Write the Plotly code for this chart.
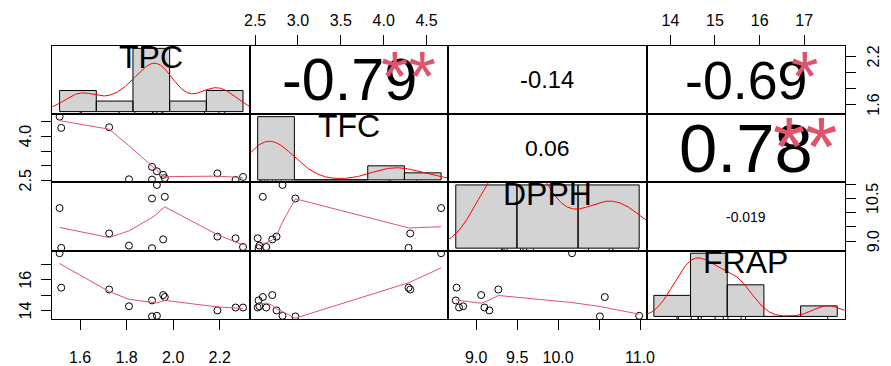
import math
import numpy as np
import plotly.graph_objects as go

# ---- data -------------------------------------------------------------
names = ["TPC", "TFC", "DPPH", "FRAP"]

tpc = [1.512, 1.519, 1.725, 1.810, 1.909, 1.909, 1.930, 1.964, 1.957, 2.190, 2.268, 2.300]
tfc = [4.67, 4.29, 4.31, 2.55, 2.97, 2.54, 2.82, 2.59, 2.70, 2.75, 2.53, 2.63]
dpph = [10.17, 8.76, 9.27, 8.84, 10.51, 8.75, 10.99, 10.57, 9.06, 9.16, 9.10, 8.79]
frap = [17.74, 15.50, 15.38, 14.29, 13.63, 14.67, 13.67, 14.89, 15.02, 14.02, 14.21, 14.21]

breaks_tpc = [1.4, 1.6, 1.8, 2.0, 2.2, 2.4]
breaks_tfc = [2.5, 3.0, 3.5, 4.0, 4.5, 5.0]
breaks_dpph = [8.0, 9.0, 10.0, 11.0]
breaks_frap = [13.0, 14.0, 15.0, 16.0, 17.0, 18.0]

bottom_ticks_tpc = [1.6, 1.8, 2.0, 2.2]
bottom_labels_tpc = ["1.6", "1.8", "2.0", "2.2"]
bottom_ticks_dpph = [9.0, 9.5, 10.0, 10.5, 11.0]
bottom_labels_dpph = ["9.0", "9.5", "10.0", "", "11.0"]
top_ticks_tfc = [2.5, 3.0, 3.5, 4.0, 4.5]
top_labels_tfc = ["2.5", "3.0", "3.5", "4.0", "4.5"]
top_ticks_frap = [14, 15, 16, 17]
top_labels_frap = ["14", "15", "16", "17"]
left_ticks_tfc = [2.5, 3.0, 3.5, 4.0, 4.5]
left_labels_tfc = ["2.5", "", "", "4.0", ""]
left_ticks_frap = [14, 15, 16, 17]
left_labels_frap = ["14", "", "16", ""]
right_ticks_tpc = [1.6, 1.8, 2.0, 2.2]
right_labels_tpc = ["1.6", "", "", "2.2"]
right_ticks_dpph = [9.0, 9.5, 10.0, 10.5, 11.0]
right_labels_dpph = ["9.0", "", "", "10.5", ""]

columns = [tpc, tfc, dpph, frap]
breaks = [breaks_tpc, breaks_tfc, breaks_dpph, breaks_frap]

# ---- page geometry ----------------------------------------------------
W, H = 891, 366
PX_L, PX_R, PX_T, PX_B = 47, 852, 47, 327
PW = (PX_R - PX_L) / 4
PH = (PX_B - PX_T) / 4
FONT = "Liberation Sans, Arial, sans-serif"
SMOOTH_COL = "#DF536B"
STAR_COL = "#DF536B"


def xdom(j):
    return [(PX_L + j * PW) / W, (PX_L + (j + 1) * PW) / W]


def ydom(i):
    return [1 - (PX_T + (i + 1) * PH) / H, 1 - (PX_T + i * PH) / H]


# ---- statistics helpers ----------------------------------------------
def padded(v):
    lo, hi = min(v), max(v)
    r = hi - lo
    return [lo - 0.04 * r, hi + 0.04 * r]


def hist_density(v, br):
    v = np.asarray(v, float)
    br = np.asarray(br, float)
    idx = np.searchsorted(br, v, side="left") - 1  # right-closed bins
    idx = np.clip(idx, 0, len(br) - 2)
    counts = np.bincount(idx, minlength=len(br) - 1)
    return counts / (len(v) * np.diff(br))


def kde(v):
    v = np.asarray(v, float)
    n = len(v)
    sd = v.std(ddof=1)
    q75, q25 = np.percentile(v, [75, 25])
    lo = min(sd, (q75 - q25) / 1.34)
    bw = 0.9 * lo * n ** -0.2
    g = np.linspace(v.min() - 3 * bw, v.max() + 3 * bw, 512)
    d = np.exp(-0.5 * ((g[:, None] - v[None, :]) / bw) ** 2).sum(1) / (n * bw * math.sqrt(2 * math.pi))
    return g, d


def lowess(xv, yv, f=2 / 3, nsteps=3):
    order = np.argsort(xv, kind="stable")
    x = np.asarray(xv, float)[order]
    y = np.asarray(yv, float)[order]
    n = len(x)
    delta = 0.01 * (x[-1] - x[0])
    span = x[-1] - x[0]
    ns = max(2, min(n, int(f * n + 1e-7)))
    ys = np.zeros(n)
    w = np.zeros(n)
    state = {"rw": np.ones(n)}

    def lowest(xs, nleft, nright, userw):
        rw = state["rw"]
        h = max(xs - x[nleft], x[nright] - xs)
        h9, h1 = 0.999 * h, 0.001 * h
        a = 0.0
        j = nleft
        while j < n:
            w[j] = 0.0
            r = abs(x[j] - xs)
            if r <= h9:
                w[j] = 1.0 if r <= h1 else (1 - (r / h) ** 3) ** 3
                if userw:
                    w[j] *= rw[j]
                a += w[j]
            elif x[j] > xs:
                break
            j += 1
        nrt = j - 1
        if a <= 0:
            return None
        sl = slice(nleft, nrt + 1)
        w[sl] /= a
        if h > 0:
            a = np.sum(w[sl] * x[sl])
            b = xs - a
            c = np.sum(w[sl] * (x[sl] - a) ** 2)
            if math.sqrt(c) > 0.001 * span:
                b /= c
                w[sl] *= b * (x[sl] - a) + 1
        return float(np.sum(w[sl] * y[sl]))

    for it in range(nsteps + 1):
        nleft, nright = 0, ns - 1
        last = -1
        i = 0
        while True:
            if nright < n - 1:
                d1 = x[i] - x[nleft]
                d2 = x[nright + 1] - x[i]
                if d1 > d2:
                    nleft += 1
                    nright += 1
                    continue
            val = lowest(x[i], nleft, nright, it > 0)
            ys[i] = y[i] if val is None else val
            if last < i - 1:
                denom = x[i] - x[last]
                for jj in range(last + 1, i):
                    alpha = (x[jj] - x[last]) / denom
                    ys[jj] = alpha * ys[i] + (1 - alpha) * ys[last]
            last = i
            cut = x[last] + delta
            i = last + 1
            while i < n:
                if x[i] > cut:
                    break
                if x[i] == x[last]:
                    ys[i] = ys[last]
                    last = i
                i += 1
            i = max(last + 1, i - 1)
            if last >= n - 1:
                break
        res = y - ys
        if it == nsteps:
            break
        sc = np.mean(np.abs(res))
        ar = np.sort(np.abs(res))
        m1 = n // 2
        cmad = 3 * (ar[m1] + ar[n - m1 - 1]) if n % 2 == 0 else 6 * ar[m1]
        if cmad < 1e-7 * sc:
            break
        c9, c1 = 0.999 * cmad, 0.001 * cmad
        r = np.abs(res)
        state["rw"] = np.where(r <= c1, 1.0, np.where(r <= c9, (1 - (r / cmad) ** 2) ** 2, 0.0))
    return x, ys


def t_pvalue(t, df):
    c = math.exp(math.lgamma((df + 1) / 2) - math.lgamma(df / 2)) / math.sqrt(df * math.pi)
    xs = np.linspace(0, abs(t), 4001)
    pdf = c * (1 + xs ** 2 / df) ** (-(df + 1) / 2)
    return max(0.0, 1 - 2 * np.trapezoid(pdf, xs))


def signif_stars(p):
    for cut, sym in [(0.001, "***"), (0.01, "**"), (0.05, "*"), (0.1, ".")]:
        if p <= cut:
            return sym
    return ""


def fmt_digits(vals, digits=2):
    decs = []
    for v in vals:
        if v == 0:
            decs.append(0)
            continue
        ref = float(f"{v:.{digits - 1}e}")
        sig = digits
        for s in range(1, digits + 1):
            if abs(float(f"{v:.{s - 1}e}") - ref) <= 1e-12 * abs(v):
                sig = s
                break
        e = int(math.floor(math.log10(abs(ref))))
        decs.append(max(0, sig - 1 - e))
    d = max(decs)
    return [f"{v:.{d}f}" for v in vals]


ADV = {"-": 0.333, ".": 0.278, "*": 0.389}


def em_width(s):
    return sum(ADV.get(ch, 0.556) for ch in s)


# ---- build the matrix -------------------------------------------------
traces = []
annotations = []
layout_axes = {}

axis_base = dict(showgrid=False, zeroline=False, showline=True, mirror=True,
                 linecolor="black", linewidth=1, ticks="", showticklabels=False,
                 fixedrange=True)
tick_font = dict(size=16, family=FONT, color="black")
tick_style = dict(ticks="outside", ticklen=10, tickwidth=1, tickcolor="black",
                  showticklabels=True, tickfont=tick_font)


def side_labels(ticks, labels, yref, px):
    for v, s in zip(ticks, labels):
        if s:
            annotations.append(dict(xref="paper", yref=yref, x=px / W, y=v, text=s,
                                    textangle=-90, showarrow=False, xanchor="center",
                                    yanchor="middle", font=tick_font))


for i in range(4):
    for j in range(4):
        k = i * 4 + j + 1
        xa = "x" if k == 1 else f"x{k}"
        ya = "y" if k == 1 else f"y{k}"
        xname = "xaxis" if k == 1 else f"xaxis{k}"
        yname = "yaxis" if k == 1 else f"yaxis{k}"
        xd, yd = xdom(j), ydom(i)

        if i == j:
            br = breaks[i]
            dens = hist_density(columns[i], br)
            m = float(dens.max())
            xr = [br[0] - 0.04 * (br[-1] - br[0]), br[-1] + 0.04 * (br[-1] - br[0])]
            yr = [-0.04 * m, 1.04 * m]
            bx, by = [], []
            for l, r, h in zip(br[:-1], br[1:], dens):
                bx += [l, l, r, r, l, None]
                by += [0, h, h, 0, 0, None]
            traces.append(go.Scatter(x=bx, y=by, xaxis=xa, yaxis=ya, mode="lines",
                                     fill="toself", fillcolor="#D3D3D3",
                                     line=dict(color="black", width=1), hoverinfo="skip"))
            g, d = kde(columns[i])
            traces.append(go.Scatter(x=g, y=d, xaxis=xa, yaxis=ya, mode="lines",
                                     line=dict(color="#FF0000", width=1), hoverinfo="skip"))
            rx, ry = [], []
            for v in columns[i]:
                rx += [v, v, None]
                ry += [yr[0], yr[0] + 0.03 * (yr[1] - yr[0]), None]
            traces.append(go.Scatter(x=rx, y=ry, xaxis=xa, yaxis=ya, mode="lines",
                                     line=dict(color="black", width=1), hoverinfo="skip"))
            annotations.append(dict(xref="paper", yref="paper",
                                    x=(xd[0] + xd[1]) / 2, y=yd[0] + (yd[1] - yd[0]) * (0.5 + 1 / 3),
                                    text=names[i], showarrow=False, xanchor="center", yanchor="middle",
                                    font=dict(size=32, family=FONT, color="black")))
        else:
            xr = padded(columns[j])
            yr = padded(columns[i])
            if i > j:
                traces.append(go.Scatter(x=columns[j], y=columns[i], xaxis=xa, yaxis=ya,
                                         mode="markers", hoverinfo="skip",
                                         marker=dict(symbol="circle-open", size=7,
                                                     line=dict(color="black", width=1),
                                                     color="black")))
                lx, ly = lowess(columns[j], columns[i])
                traces.append(go.Scatter(x=lx, y=ly, xaxis=xa, yaxis=ya, mode="lines",
                                         line=dict(color=SMOOTH_COL, width=1), hoverinfo="skip"))
            else:
                traces.append(go.Scatter(x=[None], y=[None], xaxis=xa, yaxis=ya,
                                         mode="markers", hoverinfo="skip"))
                a = np.asarray(columns[j], float)
                b = np.asarray(columns[i], float)
                r = float(np.corrcoef(a, b)[0, 1])
                txt = fmt_digits([r, 0.123456789])[0]
                dfree = len(a) - 2
                t = r * math.sqrt(dfree / (1 - r * r))
                stars = signif_stars(t_pvalue(t, dfree))
                full = 0.8 * PW / em_width(txt)
                annotations.append(dict(xref="paper", yref="paper",
                                        x=(xd[0] + xd[1]) / 2, y=(yd[0] + yd[1]) / 2,
                                        text=txt, showarrow=False, xanchor="center", yanchor="middle",
                                        font=dict(size=full * (abs(r) + 0.3) / 1.3, family=FONT,
                                                  color="black")))
                if stars:
                    annotations.append(dict(xref="paper", yref="paper",
                                            x=xd[0] + 0.8 * (xd[1] - xd[0]),
                                            y=yd[0] + 0.8 * (yd[1] - yd[0]),
                                            text=stars, showarrow=False, xanchor="center",
                                            yanchor="middle", yshift=-0.24 * full,
                                            font=dict(size=full, family=FONT, color=STAR_COL)))

        xax = dict(axis_base, domain=xd, anchor=ya, range=xr)
        yax = dict(axis_base, domain=yd, anchor=xa, range=yr)

        if i == 3 and j == 0:
            xax.update(tick_style, side="bottom", tickvals=bottom_ticks_tpc,
                       ticktext=bottom_labels_tpc, ticklabelstandoff=14)
        if i == 3 and j == 2:
            xax.update(tick_style, side="bottom", tickvals=bottom_ticks_dpph,
                       ticktext=bottom_labels_dpph, ticklabelstandoff=14)
        if i == 0 and j == 1:
            xax.update(tick_style, side="top", tickvals=top_ticks_tfc,
                       ticktext=top_labels_tfc, ticklabelstandoff=2)
        if i == 0 and j == 3:
            xax.update(tick_style, side="top", tickvals=top_ticks_frap,
                       ticktext=top_labels_frap, ticklabelstandoff=2)
        if i == 1 and j == 0:
            yax.update(tick_style, side="left", tickvals=left_ticks_tfc, showticklabels=False)
            side_labels(left_ticks_tfc, left_labels_tfc, ya, PX_L - 27)
        if i == 3 and j == 0:
            yax.update(tick_style, side="left", tickvals=left_ticks_frap, showticklabels=False)
            side_labels(left_ticks_frap, left_labels_frap, ya, PX_L - 27)
        if i == 0 and j == 3:
            yax.update(tick_style, side="right", tickvals=right_ticks_tpc, showticklabels=False)
            side_labels(right_ticks_tpc, right_labels_tpc, ya, PX_R + 29)
        if i == 2 and j == 3:
            yax.update(tick_style, side="right", tickvals=right_ticks_dpph, showticklabels=False)
            side_labels(right_ticks_dpph, right_labels_dpph, ya, PX_R + 29)

        layout_axes[xname] = xax
        layout_axes[yname] = yax

fig = go.Figure(data=traces)
fig.update_layout(width=W, height=H, margin=dict(l=0, r=0, t=0, b=0),
                  paper_bgcolor="white", plot_bgcolor="white", showlegend=False,
                  annotations=annotations, font=dict(family=FONT, color="black"),
                  **layout_axes)
fig.write_html("out.html")
